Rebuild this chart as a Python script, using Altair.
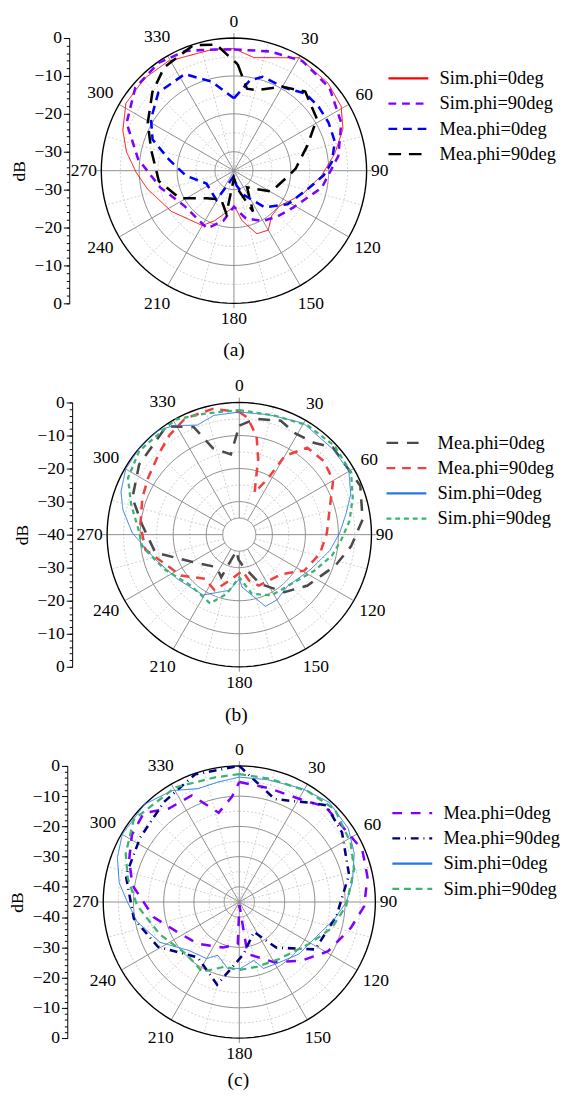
import math
import altair as alt
import pandas as pd

FONT = "Liberation Serif"

# ---------------- panel (a) ----------------
A_SERIES = ["Sim.phi=0deg", "Sim.phi=90deg", "Mea.phi=0deg", "Mea.phi=90deg"]
A_COLORS = ["#ff0000", "#8000ff", "#0000ff", "#000000"]
A_DASHES = [[1, 0], [8, 6], [9, 6], [13, 8]]
A_WIDTHS = [1.0, 2.6, 2.6, 2.6]

A_SIM0_ANG = [0, 10, 30, 47, 59, 69, 80, 93, 109, 128, 140, 150, 160, 171, 178, 185, 201, 210, 237, 258, 269, 280, 290, 302, 316, 329, 350, 360]
A_SIM0_DB = [-2.8, -4.7, -0.6, -1.1, -2.0, -4.2, -7.9, -11.8, -15.9, -19.8, -19.5, -16.9, -17.3, -21.7, -25.3, -24.8, -20.9, -18.3, -15.3, -11.7, -9.2, -6.2, -3.8, -1.4, -1.1, -1.3, -2.5, -2.8]
A_SIM90_ANG = [0, 17, 32, 49, 66, 82, 101, 122, 136, 150, 166, 180, 192, 205, 234, 257, 277, 294, 310, 325, 338, 352, 360]
A_SIM90_DB = [-3.0, -2.1, -0.9, -1.6, -4.0, -7.2, -11.4, -16.6, -18.3, -19.7, -22.0, -25.5, -21.5, -18.2, -19.0, -15.1, -9.5, -4.0, -1.0, -0.3, -0.9, -2.7, -3.0]
A_MEA0_ANG = [0, 10, 17, 32, 43, 53, 63, 74, 85, 93, 103, 122, 140, 158, 170, 185, 200, 211, 245, 264, 280, 291, 302, 316, 333, 346, 355, 360]
A_MEA0_DB = [-15.9, -10.8, -9.1, -9.3, -7.2, -7.0, -7.0, -7.3, -9.1, -11.3, -14.7, -18.3, -22.4, -28.1, -31.0, -33.5, -32.0, -26.0, -27.0, -22.3, -17.5, -12.0, -9.2, -6.3, -6.4, -10.8, -14.5, -15.9]
A_MEA90_ANG = [2, 9, 16, 30, 42, 58, 71, 88, 93, 119, 142, 155, 168, 180, 190, 204, 225, 243, 262, 284, 299, 314, 326, 342, 352, 362]
A_MEA90_DB = [-6.9, -13.1, -12.9, -9.4, -6.9, -9.2, -14.5, -18.7, -20.0, -23.7, -29.4, -23.1, -30.0, -33.0, -23.5, -26.7, -24.7, -19.0, -15.0, -12.5, -9.0, -5.1, -2.1, -0.2, -1.4, -6.9]

# ---------------- panel (b) ----------------
B_SERIES = ["Mea.phi=0deg", "Mea.phi=90deg", "Sim.phi=0deg", "Sim.phi=90deg"]
B_COLORS = ["#4a4a4a", "#f04040", "#2878e0", "#3cb371"]
B_DASHES = [[12, 9], [9, 7], [1, 0], [5, 4]]
B_WIDTHS = [2.6, 2.6, 1.0, 2.3]

B_MEA0_ANG = [0, 8, 20, 29, 39, 47, 68, 83, 96, 108, 127, 142, 157, 174, 182, 190, 203, 215, 241, 258, 276, 289, 305, 326, 337, 343, 354, 360]
B_MEA0_DB = [-7.0, -4.6, -3.3, -5.0, -4.2, -1.3, -0.5, -2.4, -6.0, -9.5, -14.3, -17.9, -23.8, -30.6, -32.5, -35.0, -26.0, -28.0, -23.2, -14.0, -10.4, -5.8, -3.0, -0.5, -4.6, -12.6, -15.6, -7.0]
B_MEA90_ANG = [0, 4, 10, 14, 20, 27, 30, 38, 49, 60, 72, 89, 103, 119, 133, 159, 168, 175, 192, 204, 218, 235, 261, 276, 291, 302, 315, 325, 335, 348, 360]
B_MEA90_DB = [-2.9, -4.5, -9.8, -16.4, -26.5, -20.9, -12.5, -6.6, -6.1, -7.2, -11.1, -13.5, -14.9, -17.5, -22.5, -23.5, -25.8, -29.0, -25.8, -21.6, -23.1, -18.4, -11.2, -9.9, -8.6, -7.5, -5.5, -3.2, -1.2, -1.1, -2.9]
B_SIM0_ANG = [0, 14, 30, 48, 60, 70, 79, 89, 100, 116, 127, 136, 150, 160, 177, 180, 190, 211, 234, 254, 271, 282, 290, 300, 311, 322, 329, 339, 348, 360]
B_SIM0_DB = [-2.9, -2.6, -1.1, -1.6, -1.7, -4.1, -7.1, -9.6, -12.2, -16.0, -17.8, -18.7, -17.2, -16.9, -24.1, -26.6, -22.9, -18.7, -17.0, -13.4, -7.6, -4.0, -1.9, -0.3, 0.0, 0.0, -1.5, -4.5, -3.1, -2.9]
B_SIM90_ANG = [0, 17, 32, 47, 61, 72, 83, 93, 103, 116, 131, 152, 168, 180, 192, 203, 224, 245, 263, 272, 286, 297, 310, 331, 344, 360]
B_SIM90_DB = [-2.3, -2.4, -1.0, -0.6, -1.3, -3.9, -6.4, -9.1, -11.3, -14.9, -18.0, -19.2, -21.7, -27.1, -21.7, -17.4, -18.7, -15.1, -10.4, -9.6, -5.9, -2.2, -0.5, -0.2, -1.9, -2.3]

# ---------------- panel (c) ----------------
C_SERIES = ["Mea.phi=0deg", "Mea.phi=90deg", "Sim.phi=0deg", "Sim.phi=90deg"]
C_COLORS = ["#8000ff", "#000080", "#1f78e6", "#3cb371"]
C_DASHES = [[10, 9], [8, 5, 1, 5], [1, 0], [7, 5]]
C_WIDTHS = [2.6, 2.6, 1.0, 2.3]

C_MEA0_ANG = [0, 15, 32, 42, 67, 79, 92, 103, 119, 133, 150, 171, 178, 182, 200, 225, 245, 260, 279, 291, 302, 313, 323, 336, 347, 356, 360]
C_MEA0_DB = [-5.3, -6.1, -5.3, -2.5, -0.8, -1.8, -3.7, -7.1, -11.4, -16.6, -22.0, -27.6, -44.0, -31.0, -29.0, -25.5, -22.0, -16.2, -9.2, -6.0, -3.1, -1.8, -6.3, -6.4, -14.7, -10.1, -5.3]
C_MEA90_ANG = [0, 19, 37, 42, 56, 76, 98, 122, 141, 154, 175, 195, 217, 241, 261, 283, 303, 323, 341, 360]
C_MEA90_DB = [0.0, -9.0, -4.1, -2.0, -4.0, -7.6, -12.5, -15.4, -25.6, -34.0, -27.8, -16.7, -22.1, -14.3, -9.7, -6.5, -5.9, -3.6, -0.3, 0.0]
C_SIM0_ANG = [0, 13, 29, 42, 56, 67, 80, 90, 100, 112, 131, 149, 160, 166, 179, 190, 202, 210, 226, 243, 259, 270, 279, 290, 300, 316, 329, 340, 350, 360]
C_SIM0_DB = [-3.7, -3.5, -2.1, -0.6, -1.5, -3.7, -7.0, -9.6, -13.0, -16.6, -18.8, -21.2, -21.6, -25.1, -23.0, -22.7, -26.0, -23.4, -21.9, -15.6, -10.6, -8.0, -4.8, -2.1, -0.3, 0.0, -2.0, -5.1, -4.7, -3.7]
C_SIM90_ANG = [0, 14, 32, 46, 62, 74, 92, 106, 121, 145, 165, 180, 193, 208, 226, 248, 268, 282, 293, 308, 331, 349, 360]
C_SIM90_DB = [-2.7, -3.0, -1.9, -1.0, -3.3, -5.5, -9.6, -13.3, -18.1, -22.0, -22.8, -22.5, -23.0, -18.9, -20.4, -16.6, -11.2, -7.3, -4.2, -0.7, -1.6, -3.0, -2.7]

ANGLE_TICKS = [0, 30, 60, 90, 120, 150, 180, 210, 240, 270, 300, 330]


def xy(ch, H):
    return ch.transform_calculate(rr=f"max(datum.db, {-H}) + {H}").transform_calculate(
        x="datum.rr * sin(datum.ang * PI / 180)",
        y="datum.rr * cos(datum.ang * PI / 180)",
    )


def build_panel(series, colors, dashes, widths, curves, H, height, width, xlo,
                axis_offset, leg_x, leg_y, caption, cap_off, major, minor, spoke_from):
    ppu = height / (2.0 * H)
    xs = alt.Scale(domain=[xlo, H], nice=False, zero=False)
    ys = alt.Scale(domain=[-H, H], nice=False, zero=False)
    X = alt.X("x:Q", scale=xs, axis=None)
    Y0 = alt.Y("y:Q", scale=ys, axis=None)

    circ_ang = list(range(0, 361, 3))

    def circles(levels):
        return pd.DataFrame([{"db": lv, "ang": a, "ord": i}
                             for lv in levels for i, a in enumerate(circ_ang)])

    maj_vals = sorted({s * (H - 10 * k) for k in range(int(H // 10) + 1)
                       for s in (1, -1) if H - 10 * k >= 0})
    min_vals = sorted({s * (H - 2 * k) for k in range(int(H // 2) + 1)
                       for s in (1, -1) if H - 2 * k >= 0})

    major_axis = alt.Axis(orient="left", values=maj_vals,
                          labelExpr=f"format(abs(datum.value) - {H}, 'd')",
                          title="dB", offset=axis_offset, grid=False, domainColor="black",
                          domainWidth=1, tickColor="black", tickSize=6, tickWidth=1,
                          labelFont=FONT, labelFontSize=18, labelColor="black", labelPadding=2,
                          titleFont=FONT, titleFontSize=18, titleFontWeight="normal",
                          titleColor="black", titlePadding=6, labelOverlap=False)
    minor_axis = alt.Axis(orient="left", values=min_vals, labels=False, domain=False,
                          ticks=True, tickSize=3, tickColor="black", tickWidth=1, title=None,
                          offset=axis_offset, grid=False)

    minor_c = xy(alt.Chart(circles(minor)), H).mark_line(
        stroke="#c4c4c4", strokeWidth=0.8, strokeDash=[2, 2]).encode(
        x=X, y=Y0, detail="db:N", order="ord:Q")
    major_c = xy(alt.Chart(circles(major)), H).mark_line(
        stroke="#8c8c8c", strokeWidth=1).encode(
        x=X, y=alt.Y("y:Q", scale=ys, axis=major_axis), detail="db:N", order="ord:Q")
    outer = xy(alt.Chart(circles([0])), H).mark_line(
        stroke="black", strokeWidth=1.4).encode(
        x=X, y=alt.Y("y:Q", scale=ys, axis=minor_axis), detail="db:N", order="ord:Q")

    ext = 5.0 / ppu
    sp_rows = []
    for a in range(0, 360, 15):
        solid = a % 30 == 0
        end = ext if a % 90 == 0 else 0.0
        sp_rows.append({"ang": a, "db0": spoke_from, "db1": end, "kind": "s" if solid else "d"})
    sp = pd.DataFrame(sp_rows)

    def spoke_layer(kind, **mk):
        return alt.Chart(sp[sp.kind == kind]).transform_calculate(
            r0=f"datum.db0 + {H}", r1=f"datum.db1 + {H}").transform_calculate(
            x="datum.r0 * sin(datum.ang * PI / 180)",
            y="datum.r0 * cos(datum.ang * PI / 180)",
            x2="datum.r1 * sin(datum.ang * PI / 180)",
            y2="datum.r1 * cos(datum.ang * PI / 180)",
        ).mark_rule(**mk).encode(x=X, y=Y0, x2="x2:Q", y2="y2:Q")

    dot_sp = spoke_layer("d", stroke="#c4c4c4", strokeWidth=0.8, strokeDash=[2, 2])
    sol_sp = spoke_layer("s", stroke="#8c8c8c", strokeWidth=1)

    rows = []
    for name, (angs, dbs), w in zip(series, curves, widths):
        for i, (a, v) in enumerate(zip(angs, dbs)):
            rows.append({"series": name, "ang": a, "db": v, "ord": i, "sw": w})
    sdf = pd.DataFrame(rows)

    leg = alt.Legend(orient="none", legendX=leg_x, legendY=leg_y, title=None,
                     symbolType="M-9.25,0H1", symbolSize=64, symbolStrokeWidth=2.2,
                     labelFont=FONT, labelFontSize=19, labelColor="black",
                     labelOffset=6, rowPadding=6, labelLimit=300, padding=0)
    lines = xy(alt.Chart(sdf), H).mark_line().encode(
        x=X, y=Y0,
        color=alt.Color("series:N", scale=alt.Scale(domain=series, range=colors), legend=leg),
        strokeDash=alt.StrokeDash("series:N", scale=alt.Scale(domain=series, range=dashes), legend=leg),
        strokeWidth=alt.StrokeWidth("sw:Q", scale=None),
        order="ord:Q",
    )

    lab_rows = []
    for a in ANGLE_TICKS:
        txt = str(a)
        t = math.radians(a)
        off_px = 4.5 + abs(math.sin(t)) * len(txt) * 4.5 + abs(math.cos(t)) * 12
        lab_rows.append({"ang": a, "db": off_px / ppu, "lab": txt})
    labels = alt.Chart(pd.DataFrame(lab_rows)).transform_calculate(
        x=f"(datum.db + {H}) * sin(datum.ang * PI / 180)",
        y=f"(datum.db + {H}) * cos(datum.ang * PI / 180)",
    ).mark_text(font=FONT, fontSize=18, color="black", align="center", baseline="middle").encode(
        x=X, y=Y0, text="lab:N")

    return alt.layer(minor_c, dot_sp, major_c, sol_sp, outer, lines, labels).resolve_axis(
        y="independent").properties(
        width=width, height=height,
        title=alt.TitleParams(caption, orient="bottom", fontSize=20, font=FONT,
                              fontWeight="normal", color="black", offset=cap_off))


pa = build_panel(A_SERIES, A_COLORS, A_DASHES, A_WIDTHS,
                 [(A_SIM0_ANG, A_SIM0_DB), (A_SIM90_ANG, A_SIM90_DB),
                  (A_MEA0_ANG, A_MEA0_DB), (A_MEA90_ANG, A_MEA90_DB)],
                 H=35, height=273, width=273, xlo=-35, axis_offset=33,
                 leg_x=323, leg_y=32, caption="(a)", cap_off=13,
                 major=[-30, -20, -10], minor=[-25, -15, -5], spoke_from=-35)
pb = build_panel(B_SERIES, B_COLORS, B_DASHES, B_WIDTHS,
                 [(B_MEA0_ANG, B_MEA0_DB), (B_MEA90_ANG, B_MEA90_DB),
                  (B_SIM0_ANG, B_SIM0_DB), (B_SIM90_ANG, B_SIM90_DB)],
                 H=40, height=272, width=278, xlo=-41.76, axis_offset=30,
                 leg_x=321, leg_y=32, caption="(b)", cap_off=14,
                 major=[-35, -30, -20, -10], minor=[-25, -15, -5], spoke_from=-35)
pc = build_panel(C_SERIES, C_COLORS, C_DASHES, C_WIDTHS,
                 [(C_MEA0_ANG, C_MEA0_DB), (C_MEA90_ANG, C_MEA90_DB),
                  (C_SIM0_ANG, C_SIM0_DB), (C_SIM90_ANG, C_SIM90_DB)],
                 H=45, height=280, width=282, xlo=-45.64, axis_offset=35,
                 leg_x=327, leg_y=39, caption="(c)", cap_off=8,
                 major=[-40, -30, -20, -10], minor=[-35, -25, -15, -5], spoke_from=-45)

chart = alt.vconcat(pa, pb, pc, spacing=102, bounds="flush").resolve_scale(
    color="independent", strokeDash="independent", x="independent", y="independent"
).configure_view(stroke=None).properties(
    padding={"left": 0, "top": -11, "right": 0, "bottom": 0})

chart.save("out.html", embed_options={"renderer": "svg", "actions": False})
